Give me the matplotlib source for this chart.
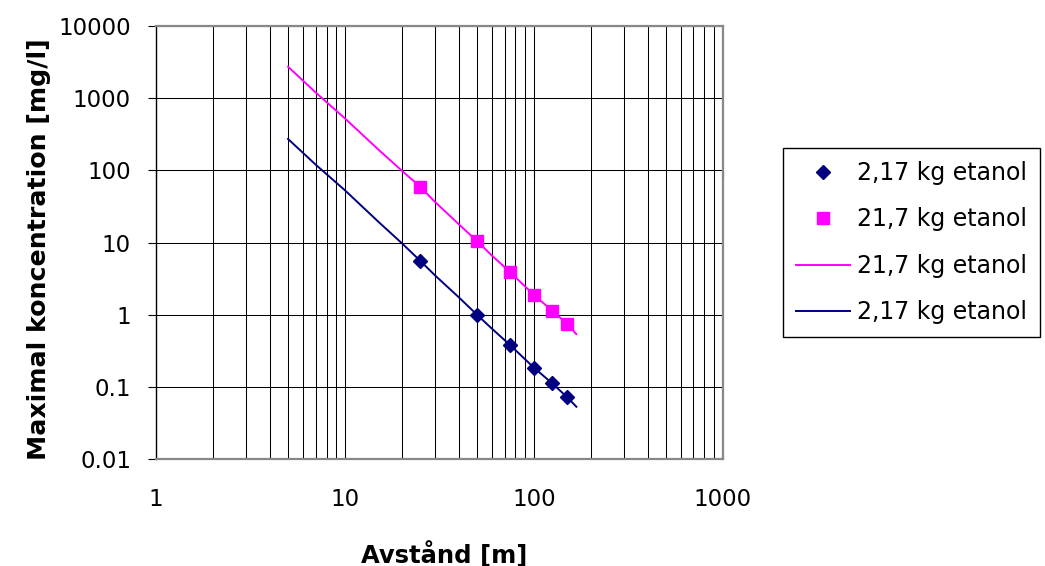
import matplotlib
matplotlib.use("Agg")
import matplotlib.pyplot as plt
from matplotlib.ticker import LogLocator, NullLocator, FixedLocator, FixedFormatter, NullFormatter

# Measured points
dist_points = [25, 50, 75, 100, 125, 150]
conc_small_points = [5.6, 1.0, 0.378, 0.185, 0.112, 0.072]      # 2,17 kg etanol
conc_large_points = [59.5, 10.5, 3.88, 1.88, 1.14, 0.746]       # 21,7 kg etanol

# Model curves
dist_curve = [5, 7, 10, 15, 20, 25, 30, 40, 50, 60, 75, 100, 125, 150, 168]
conc_large_curve = [2730, 1200, 525, 195, 99, 59.5, 36.5, 18, 10.5, 6.6, 3.88, 1.88, 1.14, 0.746, 0.537]
conc_small_curve = [272, 120, 53, 19.5, 9.8, 5.6, 3.5, 1.75, 1.0, 0.64, 0.378, 0.185, 0.112, 0.072, 0.053]

x_ticks = [1, 10, 100, 1000]
x_ticklabels = ["1", "10", "100", "1000"]
y_ticks = [0.01, 0.1, 1, 10, 100, 1000, 10000]
y_ticklabels = ["0.01", "0.1", "1", "10", "100", "1000", "10000"]

label_small = "2,17 kg etanol"
label_large = "21,7 kg etanol"

NAVY = "#000080"
MAGENTA = "#FF00FF"

plt.rcParams["font.family"] = ["DejaVu Sans"]

fig = plt.figure(figsize=(10.45, 5.66), dpi=100)
fig.patch.set_facecolor("white")
ax = fig.add_axes([156 / 1045, 1 - 459 / 566, (722.7 - 156) / 1045, (459 - 26) / 566])

ax.set_xscale("log")
ax.set_yscale("log")
ax.set_xlim(1, 1000)
ax.set_ylim(0.01, 10000)

# grid
ax.xaxis.set_major_locator(FixedLocator(x_ticks))
ax.xaxis.set_major_formatter(FixedFormatter(x_ticklabels))
ax.xaxis.set_minor_locator(LogLocator(base=10, subs=range(2, 10)))
ax.xaxis.set_minor_formatter(NullFormatter())
ax.yaxis.set_major_locator(FixedLocator(y_ticks))
ax.yaxis.set_major_formatter(FixedFormatter(y_ticklabels))
ax.yaxis.set_minor_locator(NullLocator())
ax.grid(True, axis="x", which="both", color="black", linewidth=0.75)
ax.grid(True, axis="y", which="major", color="black", linewidth=0.75)
ax.set_axisbelow(True)

# series
ax.plot(dist_points, conc_small_points, linestyle="none", marker="D", markersize=7,
        color=NAVY, label=label_small, zorder=4)
ax.plot(dist_points, conc_large_points, linestyle="none", marker="s", markersize=9,
        color=MAGENTA, label=label_large, zorder=4)
ax.plot(dist_curve, conc_large_curve, color=MAGENTA, linewidth=1.4, label=label_large, zorder=3)
ax.plot(dist_curve, conc_small_curve, color=NAVY, linewidth=1.4, label=label_small, zorder=3)

# spines
for s in ["top", "right", "bottom"]:
    ax.spines[s].set_color("#888888")
    ax.spines[s].set_linewidth(1.6)
ax.spines["left"].set_color("black")
ax.spines["left"].set_linewidth(1.0)

ax.tick_params(axis="y", which="major", direction="out", length=6, width=0.8,
               labelsize=16.5, pad=12, color="black")
ax.tick_params(axis="x", which="both", length=0, labelsize=16.5, pad=21)

# small ticks where horizontal axis crosses at y=1
sec = ax.secondary_xaxis(4 / 6)
sec.xaxis.set_major_locator(FixedLocator(x_ticks))
sec.xaxis.set_minor_locator(NullLocator())
sec.tick_params(axis="x", which="major", direction="in", length=6, width=0.8,
                labeltop=False, labelbottom=False, color="black")
for s in sec.spines.values():
    s.set_visible(False)

ax.set_xlabel("Avstånd [m]", fontsize=17.5, fontweight="bold")
ax.xaxis.set_label_coords(0.508, -0.189)
ax.set_ylabel("Maximal koncentration [mg/l]", fontsize=18.2, fontweight="bold")
ax.yaxis.set_label_coords(-0.185, 0.485)

leg = fig.legend(loc="upper left", bbox_to_anchor=(783 / 1045, 1 - 148 / 566),
                 fontsize=17, frameon=True, fancybox=False, shadow=False,
                 handlelength=2.3, handletextpad=0.3, borderpad=0.55,
                 labelspacing=0.95, borderaxespad=0)
leg.get_frame().set_edgecolor("black")
leg.get_frame().set_linewidth(1.0)
leg.get_frame().set_alpha(1)

fig.savefig("out.png", dpi=100, facecolor="white")
